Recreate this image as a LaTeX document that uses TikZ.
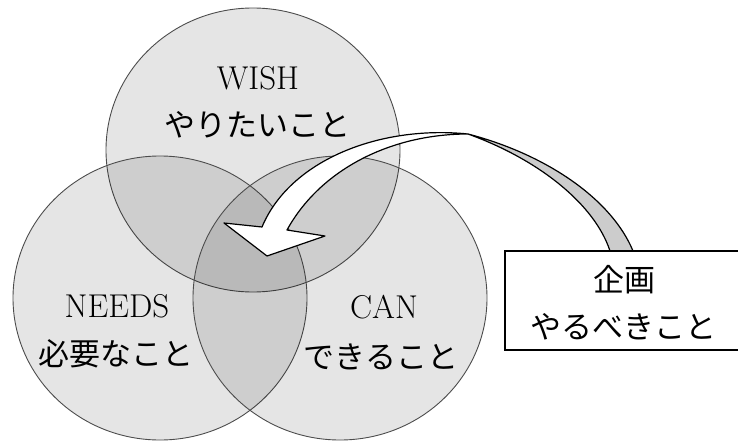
\documentclass[tikz,border=0pt]{standalone}
\usepackage{fontspec}
\newfontfamily\jpfont{Noto Sans CJK JP}
\usepackage{tikz}

\tikzset{
  venn/.style={draw=black!70, line width=0.9pt, fill=black, fill opacity=0.1},
  entxt/.style={font=\fontsize{33}{39}\selectfont, anchor=base, inner sep=0pt},
  jptxt/.style={font=\jpfont\fontsize{31}{37}\selectfont, anchor=base, inner sep=0pt},
  planbox/.style={draw, line width=1.3pt, fill=white, minimum width=234pt, minimum height=99pt, inner sep=0pt},
  ribbon/.style={draw, line width=1.2pt, line join=round}
}

\begin{document}
\begin{tikzpicture}[x=1pt,y=-1pt]
        \useasboundingbox (0,0) rectangle (738,441);

        % the three sets
        \coordinate (wishc) at (253,150);
        \coordinate (needsc) at (160,298);
        \coordinate (canc) at (340,298);
        \draw[venn] (wishc) ellipse [x radius=147, y radius=142];
        \draw[venn] (needsc) ellipse [x radius=147, y radius=142];
        \draw[venn] (canc) ellipse [x radius=147, y radius=142];

        % labels of the sets
        \node[entxt] (wish) at (258,90) {WISH};
        \node[jptxt] (wishjp) at (257,136) {やりたいこと};
        \node[entxt] (needs) at (117,317) {NEEDS};
        \node[jptxt] (needsjp) at (116,365) {必要なこと};
        \node[entxt] (can) at (384,318) {CAN};
        \node[jptxt] (canjp) at (381,368) {できること};

        % curved arrow: grey back side, then white front with head
        \coordinate (twist) at (468,134);
        \draw[ribbon, fill=black!20] (twist) .. controls (548,155) and (612,200) .. (633,251)
              -- (610,251) .. controls (595,205) and (540,160) .. (twist) -- cycle;
        \draw[ribbon, fill=white] (twist) .. controls (390,134) and (320,170) .. (287,230)
              -- (325,236) -- (267,256) -- (224,223) -- (262,227)
              .. controls (290,160) and (380,125) .. (twist) -- cycle;

        % the box
        \node[planbox] (plan) at (622,300.5) {};
        \node[jptxt] (plantop) at (624,291) {企画};
        \node[jptxt] (planbot) at (623,338) {やるべきこと};
\end{tikzpicture}
\end{document}
